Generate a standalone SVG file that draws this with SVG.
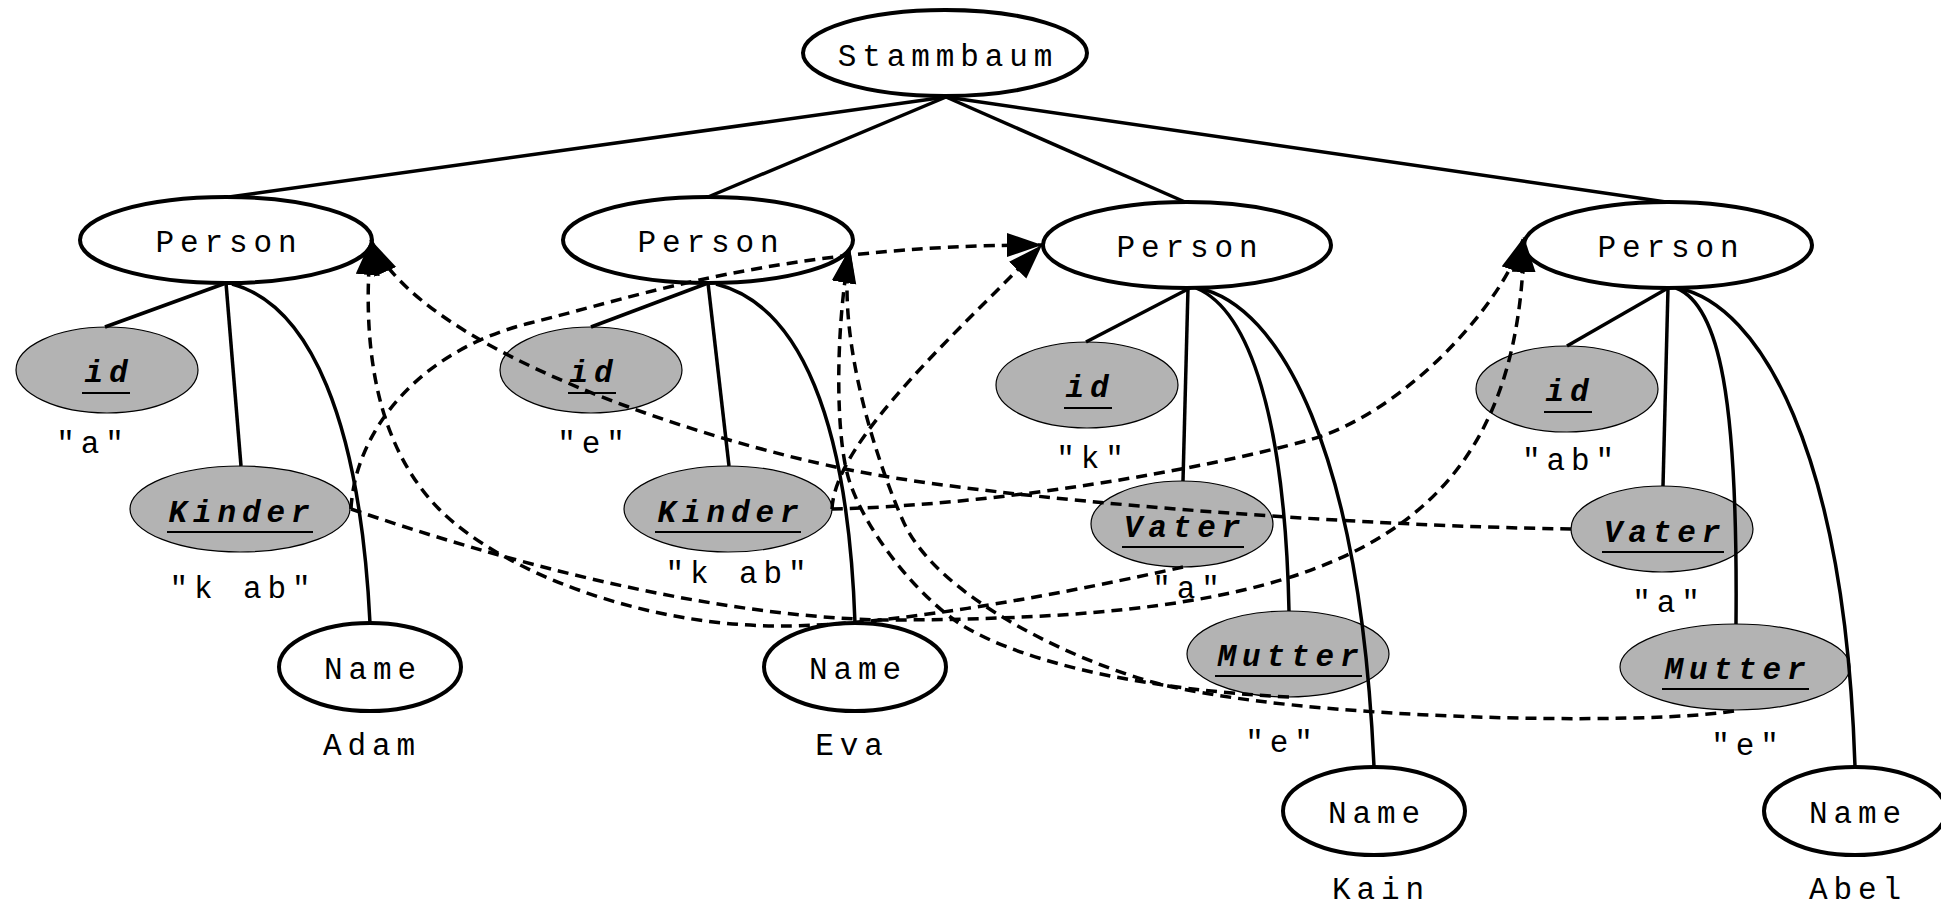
<svg xmlns="http://www.w3.org/2000/svg" width="1941" height="907" viewBox="0 0 1941 907">
<style>
.bg{fill:#fff}
.w{fill:#fff;stroke:#000;stroke-width:4}
.g{fill:#b3b3b3;stroke:#000;stroke-width:1.2}
.t{font-family:"Liberation Mono","Courier New",monospace;font-size:31px;letter-spacing:5.9px;text-anchor:middle;fill:#000}
.b{font-weight:bold;font-style:italic}
.u{stroke:#000;stroke-width:2}
.s{fill:none;stroke:#000;stroke-width:3.5}
.d{fill:none;stroke:#000;stroke-width:3.5;stroke-dasharray:11 7;marker-end:url(#ah)}
</style>
<defs>
<marker id="ah" markerUnits="userSpaceOnUse" markerWidth="36" markerHeight="26" refX="35" refY="12" orient="auto">
<path d="M0,0 L35,12 L0,24 z" fill="#000"/>
</marker>
</defs>
<rect class="bg" x="0" y="0" width="1941" height="907"/>

<g id="stammbaum"><ellipse class="w" cx="945" cy="53" rx="142" ry="43"/><text class="t" x="948" y="66">Stammbaum</text></g>

<g id="person1"><ellipse class="w" cx="226" cy="240" rx="146" ry="43"/><text class="t" x="229" y="252">Person</text></g>
<g id="person2"><ellipse class="w" cx="708" cy="240" rx="145" ry="43"/><text class="t" x="711" y="252">Person</text></g>
<g id="person3"><ellipse class="w" cx="1187" cy="245" rx="144" ry="43"/><text class="t" x="1190" y="257">Person</text></g>
<g id="person4"><ellipse class="w" cx="1668" cy="245" rx="144" ry="43"/><text class="t" x="1671" y="257">Person</text></g>

<g id="id1"><ellipse class="g" cx="107" cy="370" rx="91" ry="43"/><text class="t b" x="109" y="382">id</text><line class="u" x1="82" y1="393" x2="130" y2="393"/><text class="t" x="93" y="453">"a"</text></g>
<g id="id2"><ellipse class="g" cx="591" cy="370" rx="91" ry="43"/><text class="t b" x="594" y="382">id</text><line class="u" x1="568" y1="393" x2="616" y2="393"/><text class="t" x="594" y="453">"e"</text></g>
<g id="id3"><ellipse class="g" cx="1087" cy="385" rx="91" ry="43"/><text class="t b" x="1090" y="397">id</text><line class="u" x1="1064" y1="408" x2="1112" y2="408"/><text class="t" x="1093" y="468">"k"</text></g>
<g id="id4"><ellipse class="g" cx="1567" cy="389" rx="91" ry="43"/><text class="t b" x="1570" y="401">id</text><line class="u" x1="1544" y1="412" x2="1592" y2="412"/><text class="t" x="1571" y="470">"ab"</text></g>

<g id="kinder1"><ellipse class="g" cx="240" cy="509" rx="110" ry="43"/><text class="t b" x="242" y="522">Kinder</text><line class="u" x1="167" y1="532" x2="313" y2="532"/><text class="t" x="243" y="598">"k ab"</text></g>
<g id="kinder2"><ellipse class="g" cx="728" cy="509" rx="104" ry="43"/><text class="t b" x="731" y="522">Kinder</text><line class="u" x1="655" y1="532" x2="801" y2="532"/><text class="t" x="739" y="583">"k ab"</text></g>

<g id="vater1"><ellipse class="g" cx="1182" cy="524" rx="91" ry="43"/><text class="t b" x="1185" y="537">Vater</text><line class="u" x1="1122" y1="547" x2="1244" y2="547"/><text class="t" x="1189" y="598">"a"</text></g>
<g id="vater2"><ellipse class="g" cx="1662" cy="529" rx="91" ry="43"/><text class="t b" x="1665" y="542">Vater</text><line class="u" x1="1602" y1="552" x2="1724" y2="552"/><text class="t" x="1669" y="612">"a"</text></g>

<g id="mutter1"><ellipse class="g" cx="1288" cy="654" rx="101" ry="43"/><text class="t b" x="1291" y="666">Mutter</text><line class="u" x1="1215" y1="676" x2="1362" y2="676"/><text class="t" x="1282" y="752">"e"</text></g>
<g id="mutter2"><ellipse class="g" cx="1735" cy="667" rx="115" ry="43"/><text class="t b" x="1738" y="679">Mutter</text><line class="u" x1="1662" y1="689" x2="1809" y2="689"/><text class="t" x="1748" y="755">"e"</text></g>

<g id="name1"><ellipse class="w" cx="370" cy="667" rx="91" ry="44"/><text class="t" x="373" y="679">Name</text><text class="t" x="372" y="755">Adam</text></g>
<g id="name2"><ellipse class="w" cx="855" cy="667" rx="91" ry="44"/><text class="t" x="858" y="679">Name</text><text class="t" x="852" y="755">Eva</text></g>
<g id="name3"><ellipse class="w" cx="1374" cy="811" rx="91" ry="44"/><text class="t" x="1377" y="823">Name</text><text class="t" x="1381" y="899">Kain</text></g>
<g id="name4"><ellipse class="w" cx="1855" cy="811" rx="91" ry="44"/><text class="t" x="1858" y="823">Name</text><text class="t" x="1858" y="899">Abel</text></g>

<g id="connectors">
<path class="s" d="M946 97 L229 197"/>
<path class="s" d="M946 97 L708 197"/>
<path class="s" d="M946 97 L1185 202"/>
<path class="s" d="M946 97 L1666 202"/>
<path class="s" d="M226 283 L105 327"/>
<path class="s" d="M226 283 L241 466"/>
<path class="s" d="M232 284 C310 305 360 420 370 623"/>
<path class="s" d="M708 283 L591 327"/>
<path class="s" d="M708 283 L729 466"/>
<path class="s" d="M716 284 C800 305 848 420 855 623"/>
<path class="s" d="M1190 288 L1086 342"/>
<path class="s" d="M1188 288 L1183 481"/>
<path class="s" d="M1196 288 C1250 310 1285 420 1289 611"/>
<path class="s" d="M1198 288 C1280 305 1360 450 1374 767"/>
<path class="s" d="M1668 288 L1567 346"/>
<path class="s" d="M1668 288 L1663 486"/>
<path class="s" d="M1676 288 C1720 305 1738 400 1736 624"/>
<path class="s" d="M1678 288 C1760 305 1845 450 1855 767"/>

<path class="d" d="M351 509 C355 430 420 350 530 323 C640 296 780 245 1042 245"/>
<path class="d" d="M351 509 C500 560 700 615 880 620 C1300 620 1520 560 1524 237"/>
<path class="d" d="M832 509 C835 440 960 330 1042 245"/>
<path class="d" d="M832 509 C1000 505 1200 470 1309 440 C1400 415 1500 310 1524 237"/>
<path class="d" d="M1183 567 C1080 590 900 626 780 626 C640 626 500 570 440 510 C392 462 358 380 371 240"/>
<path class="d" d="M1571 529 C1350 526 1000 500 850 470 C700 440 420 350 371 240"/>
<path class="d" d="M1289 697 C1150 690 1030 665 965 627 C925 603 870 540 850 483 C835 440 835 330 850 248"/>
<path class="d" d="M1734 711 C1640 726 1300 720 1156 683 C1080 663 940 600 904 523 C880 470 835 340 850 248"/>
</g>
</svg>
